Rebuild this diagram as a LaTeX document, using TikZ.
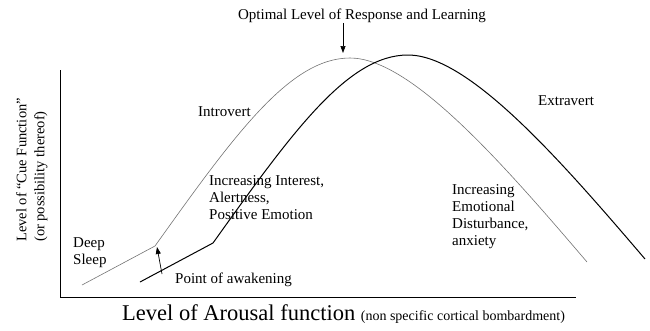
\documentclass[tikz,border=0pt]{standalone}
\usepackage{fontspec}
\setmainfont{Liberation Serif}
\usetikzlibrary{arrows.meta}
\newcommand{\arousalcurve}{(82,285) -- (155,246) .. controls (235,134) and (290,58) .. (350,58) .. controls (410,58) and (500,160) .. (587,262)}

\begin{document}
\begin{tikzpicture}[x=1pt,y=-1pt,
  txt/.style={font=\fontsize{15}{17}\selectfont, inner sep=0pt, align=left},
  introvert/.style={draw=black!55, line width=0.6pt},
  extravert/.style={draw=black, line width=1pt},
  pointer/.style={-{Triangle[length=7pt,width=5pt]}, line width=0.7pt}]
\useasboundingbox (0,0) rectangle (650,330);
\coordinate (o) at (60,297);
\coordinate (ytop) at (60,70);
\coordinate (xend) at (576,297);
\draw[line width=0.9pt] (ytop) -- (o) -- (xend);

\draw[introvert] \arousalcurve;
\draw[extravert, shift={(58,-3)}] \arousalcurve;

\node[txt, anchor=base] (optimal) at (362,19.5) {Optimal Level of Response and Learning};
\coordinate (optpeak) at (343,53);
\draw[pointer] (optimal.south -| optpeak) -- (optpeak);

\node[txt, anchor=base west] (intro) at (198,116) {Introvert};
\node[txt, anchor=base west] (extra) at (538,105) {Extravert};
\node[txt, anchor=base west] (sleep) at (73,264) {Deep\\Sleep};
\node[txt, anchor=base west] (interest) at (209,219) {Increasing Interest,\\Alertness,\\Positive Emotion};
\node[txt, anchor=base west] (disturb) at (452,245) {Increasing\\Emotional\\Disturbance,\\anxiety};

\node[txt, anchor=base west] (awake) at (175,283) {Point of awakening};
\coordinate (waketail) at (162,274);
\coordinate (kink) at (157,247);
\draw[pointer] (waketail) -- (kink);

\node[txt, font=\fontsize{14.5}{18}\selectfont, rotate=90, anchor=north west] (ylab) at (16,242) {Level of “Cue Function”\\(or possibility thereof)};
\node[anchor=base west, inner sep=0pt] (xlab) at (122,320) {\fontsize{22.5}{26}\selectfont Level of Arousal function \fontsize{14}{16}\selectfont(non specific cortical bombardment)};
\end{tikzpicture}
\end{document}
